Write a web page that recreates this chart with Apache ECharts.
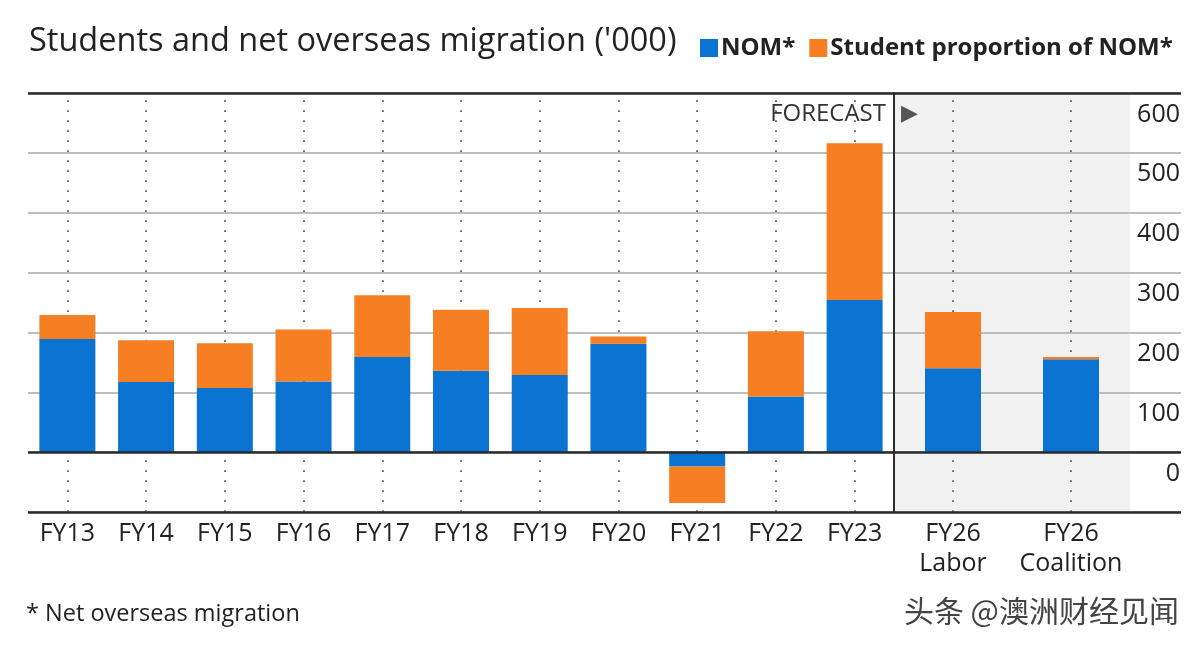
<!DOCTYPE html>
<html>
<head>
<meta charset="utf-8">
<script src="https://cdn.jsdelivr.net/npm/echarts@6/dist/echarts.min.js"></script>
<style>
html,body{margin:0;padding:0;background:#fff;}
#chart{width:1204px;height:650px;}
</style>
</head>
<body>
<div id="chart"></div>
<script>
// ---- data ----
const histCategories = ['FY13','FY14','FY15','FY16','FY17','FY18','FY19','FY20','FY21','FY22','FY23'];
const forecastCategories = ['FY26\nLabor','FY26\nCoalition'];
const nomHist = [189,117,107,118,159,136,129,181,-24,93,254];
const studentHist = [40,70,75,87,103,102,112,12,-61,109,262];
const nomForecast = [140,155];
const studentForecast = [94,4];
const yTicks = [-100,0,100,200,300,400,500,600];
const seriesNames = ['NOM*','Student proportion of NOM*'];

const BLUE = '#0b74d3';
const ORANGE = '#f57f22';
const FONT = 'Open Sans';
const TXT = '#222';

const chart = echarts.init(document.getElementById('chart'));

const yMin = yTicks[0], yMax = yTicks[yTicks.length-1];
const strongLines = {
  silent: true, symbol: 'none', label: {show: false},
  lineStyle: {color: '#2a2a2a', width: 2.5, type: 'solid'},
  emphasis: {disabled: true},
  data: [{yAxis: 0}, {yAxis: yMax}, {yAxis: yMin}]
};

function yAxisBase(gridIndex, extra) {
  return Object.assign({
    type: 'value', gridIndex, min: yMin, max: yMax, interval: 100,
    axisLabel: {show: false},
    axisTick: {show: false},
    axisLine: {show: false},
    splitLine: {show: true, lineStyle: {color: '#a8a8a8', width: 1.5}}
  }, extra || {});
}
function xAxisBase(gridIndex, data) {
  return {
    type: 'category', gridIndex, data, position: 'bottom',
    axisLine: {show: false, onZero: false},
    axisTick: {show: true, alignWithLabel: true, inside: true, length: 417,
      lineStyle: {color: '#5a5a5a', width: 1.7, type: [1.7, 8.3]}},
    axisLabel: {color: TXT, fontFamily: FONT, fontSize: 25, lineHeight: 30, margin: 7, interval: 0},
    splitLine: {show: false}
  };
}

const option = {
  animation: false,
  backgroundColor: '#fff',
  title: {
    text: "Students and net overseas migration ('000)",
    left: 24, top: 20,
    textStyle: {fontFamily: FONT, fontWeight: 'normal', fontSize: 32.5, color: TXT}
  },
  legend: {
    data: seriesNames,
    left: 695, top: 31,
    icon: 'rect', itemWidth: 18, itemHeight: 18, itemGap: 14,
    textStyle: {fontFamily: FONT, fontWeight: 'bold', fontSize: 24, color: TXT, padding: [0,0,0,-2]}
  },
  grid: [
    {left: 28, right: 310, top: 93, bottom: 138},
    {left: 894, right: 74, top: 93, bottom: 138, show: true, backgroundColor: '#f1f1f1', borderWidth: 0},
    {left: 1130, right: 23, top: 93, bottom: 138}
  ],
  xAxis: [
    xAxisBase(0, histCategories),
    xAxisBase(1, forecastCategories),
    {type: 'value', gridIndex: 2, min: 0, max: 1, show: false}
  ],
  yAxis: [
    yAxisBase(0),
    yAxisBase(1, {axisLine: {show: true, lineStyle: {color: '#2a2a2a', width: 2}}}),
    yAxisBase(2, {
      position: 'right',
      axisLabel: {show: true, inside: true, margin: 1, verticalAlign: 'top', padding: [9,0,0,0],
        color: TXT, fontFamily: FONT, fontSize: 25,
        formatter: v => v < 0 ? '' : String(v)}
    })
  ],
  series: [
    {name: seriesNames[0], type: 'bar', stack: 'h', xAxisIndex: 0, yAxisIndex: 0, data: nomHist,
      barWidth: 56, itemStyle: {color: BLUE}, z: 3, markLine: strongLines},
    {name: seriesNames[1], type: 'bar', stack: 'h', xAxisIndex: 0, yAxisIndex: 0, data: studentHist,
      barWidth: 56, itemStyle: {color: ORANGE}, z: 3},
    {name: seriesNames[0], type: 'bar', stack: 'f', xAxisIndex: 1, yAxisIndex: 1, data: nomForecast,
      barWidth: 56, itemStyle: {color: BLUE}, z: 3, markLine: strongLines},
    {name: seriesNames[1], type: 'bar', stack: 'f', xAxisIndex: 1, yAxisIndex: 1, data: studentForecast,
      barWidth: 56, itemStyle: {color: ORANGE}, z: 3},
    {name: 'axisLines', type: 'line', xAxisIndex: 2, yAxisIndex: 2, data: [], markLine: strongLines}
  ],
  graphic: [
    {type: 'text', right: 1204 - 886, top: 102,
      style: {text: 'FORECAST', font: '24px "Open Sans"', fill: '#333', textAlign: 'right'}},
    {type: 'text', left: 901, top: 103,
      style: {text: '▶', font: '22px "DejaVu Sans"', fill: '#555'}},
    {type: 'text', left: 26, top: 602,
      style: {text: '* Net overseas migration', font: '23.5px "Open Sans"', fill: TXT}},
    {type: 'text', right: 24, top: 595,
      style: {text: '头条 @澳洲财经见闻', font: '30px "Noto Sans CJK SC"', fill: '#444',
        stroke: '#fff', lineWidth: 2}}
  ]
};
chart.setOption(option);
</script>
</body>
</html>
